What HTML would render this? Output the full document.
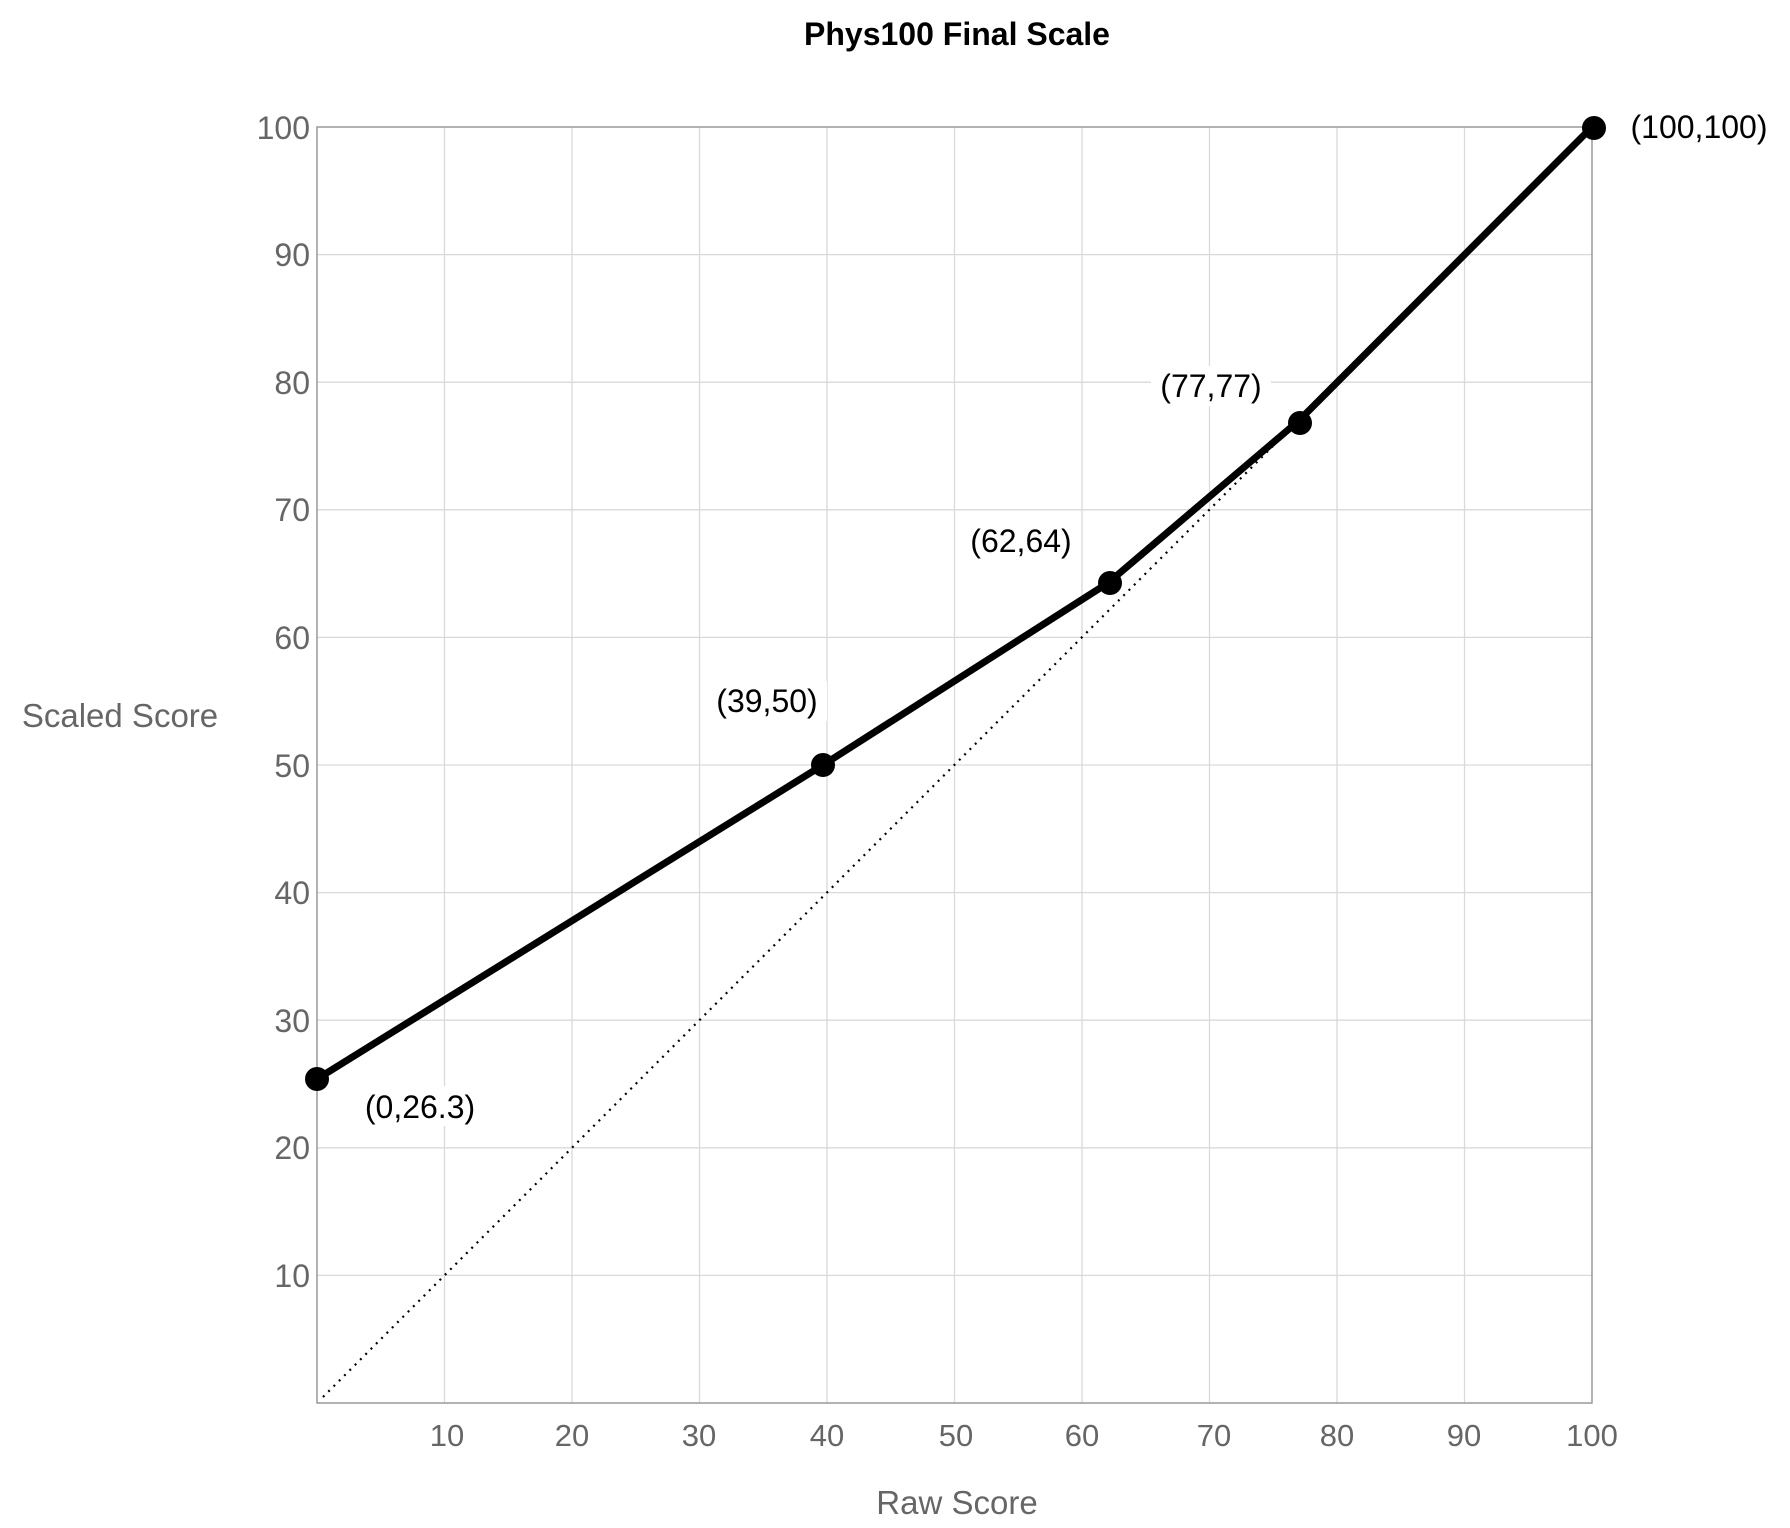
<!DOCTYPE html>
<html><head><meta charset="utf-8"><style>
html,body{margin:0;padding:0;background:#fff;}
svg{display:block;font-family:"Liberation Sans",sans-serif;}
</style></head><body>
<svg width="1790" height="1528" viewBox="0 0 1790 1528">
<text x="957" y="45" text-anchor="middle" font-size="32" font-weight="bold" fill="#000">Phys100 Final Scale</text>
<g stroke="#d9d9d9" stroke-width="1.3">
<line x1="444.5" y1="127" x2="444.5" y2="1403"/><line x1="572" y1="127" x2="572" y2="1403"/><line x1="699.5" y1="127" x2="699.5" y2="1403"/><line x1="827" y1="127" x2="827" y2="1403"/><line x1="954.5" y1="127" x2="954.5" y2="1403"/><line x1="1082" y1="127" x2="1082" y2="1403"/><line x1="1209.5" y1="127" x2="1209.5" y2="1403"/><line x1="1337" y1="127" x2="1337" y2="1403"/><line x1="1464.5" y1="127" x2="1464.5" y2="1403"/>
<line x1="317" y1="1275.4" x2="1592" y2="1275.4"/><line x1="317" y1="1147.8" x2="1592" y2="1147.8"/><line x1="317" y1="1020.2" x2="1592" y2="1020.2"/><line x1="317" y1="892.6" x2="1592" y2="892.6"/><line x1="317" y1="765" x2="1592" y2="765"/><line x1="317" y1="637.4" x2="1592" y2="637.4"/><line x1="317" y1="509.8" x2="1592" y2="509.8"/><line x1="317" y1="382.2" x2="1592" y2="382.2"/><line x1="317" y1="254.6" x2="1592" y2="254.6"/>
</g>
<rect x="317" y="127" width="1275" height="1276" fill="none" stroke="#999" stroke-width="1.5"/>
<g font-size="32" fill="#666" text-anchor="end">
<text x="310" y="1287">10</text><text x="310" y="1159">20</text><text x="310" y="1032">30</text><text x="310" y="904">40</text><text x="310" y="777">50</text><text x="310" y="649">60</text><text x="310" y="521">70</text><text x="310" y="394">80</text><text x="310" y="266">90</text><text x="310" y="139">100</text>
</g>
<g font-size="31" fill="#666" text-anchor="middle">
<text x="447" y="1446">10</text><text x="572" y="1446">20</text><text x="699" y="1446">30</text><text x="827" y="1446">40</text><text x="956" y="1446">50</text><text x="1082" y="1446">60</text><text x="1214" y="1446">70</text><text x="1337" y="1446">80</text><text x="1464" y="1446">90</text><text x="1592" y="1446">100</text>
</g>
<text x="120" y="727" text-anchor="middle" font-size="33" fill="#666">Scaled Score</text>
<text x="957" y="1514" text-anchor="middle" font-size="33" fill="#666">Raw Score</text>
<line x1="323" y1="1397" x2="1273" y2="446" stroke="#000" stroke-width="2.2" stroke-dasharray="2,5.5"/>
<polyline points="317,1079 823,765 1108,583 1299,420.5 1592,127" fill="none" stroke="#000" stroke-width="7" stroke-linejoin="round"/>
<g fill="#000"><circle cx="317" cy="1079" r="12"/><circle cx="823" cy="765" r="12"/><circle cx="1110" cy="583" r="12"/><circle cx="1300" cy="423" r="12"/><circle cx="1594" cy="128" r="12"/></g>
<g font-size="32" fill="#000" text-anchor="middle">
<rect x="358" y="1086" width="124" height="40" fill="#fff"/><text x="420" y="1118">(0,26.3)</text>
<rect x="707" y="681" width="120" height="40" fill="#fff"/><text x="767" y="712">(39,50)</text>
<rect x="961" y="521" width="120" height="40" fill="#fff"/><text x="1021" y="552">(62,64)</text>
<rect x="1151" y="366" width="120" height="40" fill="#fff"/><text x="1211" y="397">(77,77)</text>
<text x="1699" y="138">(100,100)</text>
</g>
</svg>
</body></html>
